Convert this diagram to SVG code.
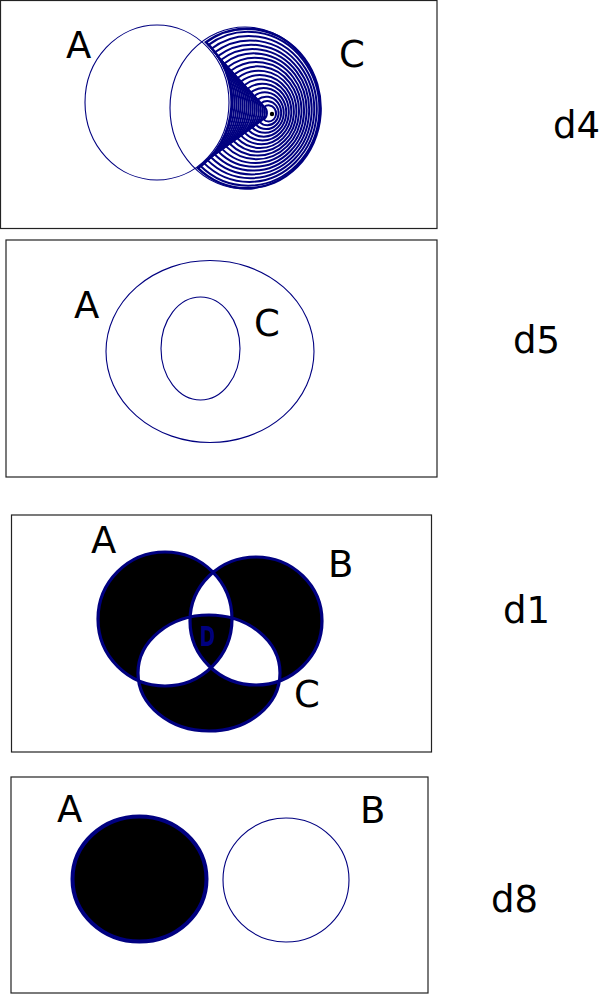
<svg xmlns="http://www.w3.org/2000/svg" xmlns:xlink="http://www.w3.org/1999/xlink" width="603" height="994" viewBox="0 0 603 994">
<style>
.frame{fill:#fff;stroke:#222;stroke-width:1.2}
.thin{fill:none;stroke:#000080;stroke-width:1.1}
.lbl{font-family:"DejaVu Sans",Verdana,sans-serif;font-size:37px;fill:#000}
.hatch{fill:none;stroke:#000080;stroke-width:2}
.hatch use{vector-effect:non-scaling-stroke}
</style>
<defs>
<path id="cres" vector-effect="non-scaling-stroke" d="M204,42 A75,81 0 1 1 196,168 A72,77.5 0 0 0 204,42 Z"/>
<clipPath id="cresClip"><use xlink:href="#cres"/></clipPath>
</defs>
<rect width="603" height="994" fill="#fff"/>

<g id="d4">
<rect class="frame" x="0.5" y="0.5" width="436.5" height="228"/>
<g clip-path="url(#cresClip)">
<g class="hatch">
<use xlink:href="#cres" style="stroke-width:5"/>
<use xlink:href="#cres" transform="translate(271,114) scale(0.95) translate(-271,-114)"/>
<use xlink:href="#cres" transform="translate(271,114) scale(0.90) translate(-271,-114)"/>
<use xlink:href="#cres" transform="translate(271,114) scale(0.85) translate(-271,-114)"/>
<use xlink:href="#cres" transform="translate(271,114) scale(0.80) translate(-271,-114)"/>
<use xlink:href="#cres" transform="translate(271,114) scale(0.75) translate(-271,-114)"/>
<use xlink:href="#cres" transform="translate(271,114) scale(0.70) translate(-271,-114)"/>
<use xlink:href="#cres" transform="translate(271,114) scale(0.65) translate(-271,-114)"/>
<use xlink:href="#cres" transform="translate(271,114) scale(0.60) translate(-271,-114)"/>
<use xlink:href="#cres" transform="translate(271,114) scale(0.55) translate(-271,-114)"/>
<use xlink:href="#cres" transform="translate(271,114) scale(0.50) translate(-271,-114)"/>
<use xlink:href="#cres" transform="translate(271,114) scale(0.45) translate(-271,-114)"/>
<use xlink:href="#cres" transform="translate(271,114) scale(0.40) translate(-271,-114)"/>
<use xlink:href="#cres" transform="translate(271,114) scale(0.35) translate(-271,-114)"/>
<use xlink:href="#cres" transform="translate(271,114) scale(0.30) translate(-271,-114)"/>
<use xlink:href="#cres" transform="translate(271,114) scale(0.25) translate(-271,-114)"/>
<use xlink:href="#cres" transform="translate(271,114) scale(0.20) translate(-271,-114)"/>
<use xlink:href="#cres" transform="translate(271,114) scale(0.15) translate(-271,-114)"/>
<use xlink:href="#cres" transform="translate(271,114) scale(0.10) translate(-271,-114)"/>
</g>
<circle cx="272" cy="114" r="2.2" fill="#000"/>
</g>
<ellipse class="thin" cx="157" cy="102.5" rx="72" ry="77.5"/>
<ellipse class="thin" cx="245" cy="108" rx="75" ry="81"/>
<text class="lbl" x="66" y="58">A</text>
<text class="lbl" x="339" y="67">C</text>
<text class="lbl" x="553" y="138">d4</text>
</g>

<g id="d5">
<rect class="frame" x="6" y="240" width="431" height="237"/>
<ellipse class="thin" cx="210" cy="351.5" rx="104" ry="91"/>
<ellipse class="thin" cx="200.5" cy="348.5" rx="39.5" ry="51.5"/>
<text class="lbl" x="74" y="318">A</text>
<text class="lbl" x="254" y="336">C</text>
<text class="lbl" x="513" y="353">d5</text>
</g>

<g id="d1">
<rect class="frame" x="11.5" y="515" width="420" height="237"/>
<path fill="#000" fill-rule="evenodd" stroke="#000080" stroke-width="3.2" stroke-linejoin="round"
 d="M98,619 A67,67 0 1 0 232,619 A67,67 0 1 0 98,619 Z
    M190,621 A66,64 0 1 0 322,621 A66,64 0 1 0 190,621 Z
    M138,673 A71,58 0 1 0 280,673 A71,58 0 1 0 138,673 Z"/>
<text x="0" y="0" transform="translate(200.5,645) scale(0.75,1)" font-family="DejaVu Sans,sans-serif" font-size="24" fill="none" stroke="#000080" stroke-width="2.2">D</text>
<text class="lbl" x="91" y="553">A</text>
<text class="lbl" x="328" y="577">B</text>
<text class="lbl" x="294" y="707">C</text>
<text class="lbl" x="503" y="623">d1</text>
</g>

<g id="d8">
<rect class="frame" x="11" y="777" width="417" height="216"/>
<ellipse cx="139.5" cy="879" rx="67" ry="62.5" fill="#000" stroke="#000080" stroke-width="4"/>
<ellipse class="thin" cx="286" cy="880" rx="63" ry="62"/>
<text class="lbl" x="57" y="822">A</text>
<text class="lbl" x="360" y="823">B</text>
<text class="lbl" x="491" y="912">d8</text>
</g>
</svg>
